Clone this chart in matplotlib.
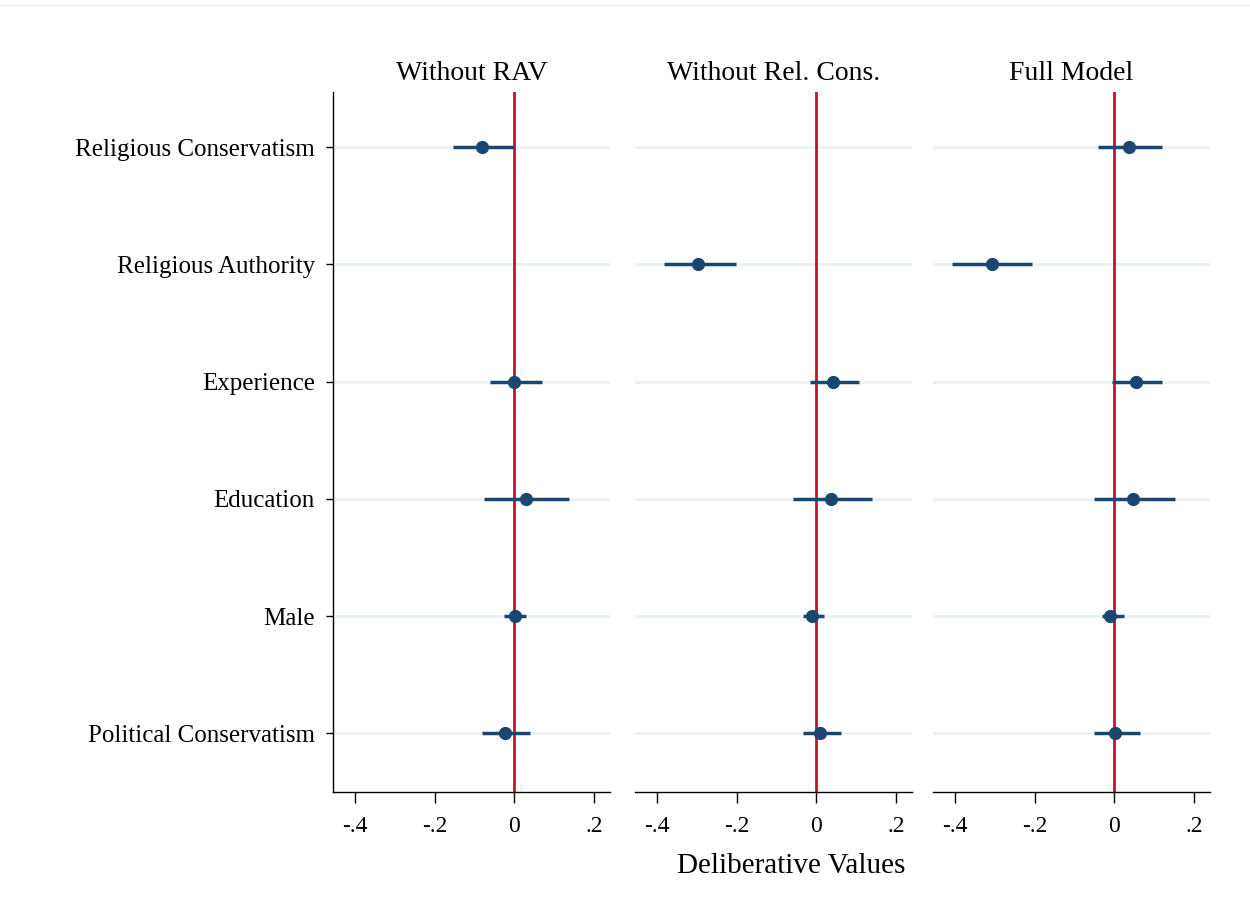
import numpy as np
import matplotlib.pyplot as plt

plt.rcParams['font.family'] = ['Liberation Serif', 'DejaVu Serif']

# ---- data ----
variables = ["Religious Conservatism", "Religious Authority", "Experience",
             "Education", "Male", "Political Conservatism"]
models = ["Without RAV", "Without Rel. Cons.", "Full Model"]

# coefficient, lower CI, upper CI per model (nan = not in model)
nan = np.nan
coef_rav = [-0.080, nan, 0.000, 0.030, 0.001, -0.024]
lo_rav = [-0.155, nan, -0.062, -0.075, -0.025, -0.080]
hi_rav = [-0.002, nan, 0.070, 0.137, 0.030, 0.040]

coef_rc = [nan, -0.296, 0.041, 0.038, -0.012, 0.010]
lo_rc = [nan, -0.383, -0.015, -0.058, -0.033, -0.033]
hi_rc = [nan, -0.202, 0.108, 0.140, 0.018, 0.063]

coef_full = [0.037, -0.307, 0.055, 0.046, -0.010, 0.002]
lo_full = [-0.042, -0.407, -0.007, -0.050, -0.031, -0.052]
hi_full = [0.120, -0.206, 0.120, 0.153, 0.023, 0.065]

xticks = [-0.4, -0.2, 0, 0.2]
xticklabels = ["-.4", "-.2", "0", ".2"]

series = [(coef_rav, lo_rav, hi_rav), (coef_rc, lo_rc, hi_rc),
          (coef_full, lo_full, hi_full)]

NAVY = "#1a476f"
RED = "#c8102e"
GRID = "#eaf2f3"

fig = plt.figure(figsize=(12.5, 9.09), dpi=100, facecolor='white')
fig.lines.append(plt.Line2D([0, 1], [0.995, 0.995], transform=fig.transFigure,
                            color='#eeeeee', linewidth=1))

lefts = [333, 635, 933]
width = 277
bottom = 1 - 792 / 909
height = (792 - 92) / 909
ypos = np.arange(len(variables))

for i, (name, (c, lo, hi)) in enumerate(zip(models, series)):
    ax = fig.add_axes([lefts[i] / 1250, bottom, width / 1250, height])
    c, lo, hi = np.array(c), np.array(lo), np.array(hi)
    for y in ypos:
        ax.axhline(y, color=GRID, linewidth=2, zorder=0)
    ax.axvline(0, color=RED, linewidth=2, zorder=1)
    ax.hlines(ypos, lo, hi, color=NAVY, linewidth=2.5, zorder=2)
    ax.plot(c, ypos, 'o', color=NAVY, markersize=8.5, zorder=3)

    ax.set_xlim(-0.455, 0.24)
    ax.set_ylim(len(variables) - 0.5, -0.47)
    ax.set_xticks(xticks)
    ax.set_xticklabels(xticklabels, fontsize=17)
    ax.tick_params(axis='x', direction='out', length=8, width=1, pad=9)
    ax.set_title(name, fontsize=20, pad=9)

    for s in ['top', 'right']:
        ax.spines[s].set_visible(False)
    ax.spines['bottom'].set_linewidth(1)
    if i == 0:
        ax.set_yticks(ypos)
        ax.set_yticklabels(variables, fontsize=18)
        ax.tick_params(axis='y', direction='out', length=5, width=1, pad=8)
        ax.spines['left'].set_linewidth(1)
    else:
        ax.set_yticks([])
        ax.spines['left'].set_visible(False)

fig.text(791 / 1250, 1 - 866 / 909, "Deliberative Values", fontsize=21,
         ha='center', va='center')

plt.savefig("out.png", dpi=100, facecolor='white')
